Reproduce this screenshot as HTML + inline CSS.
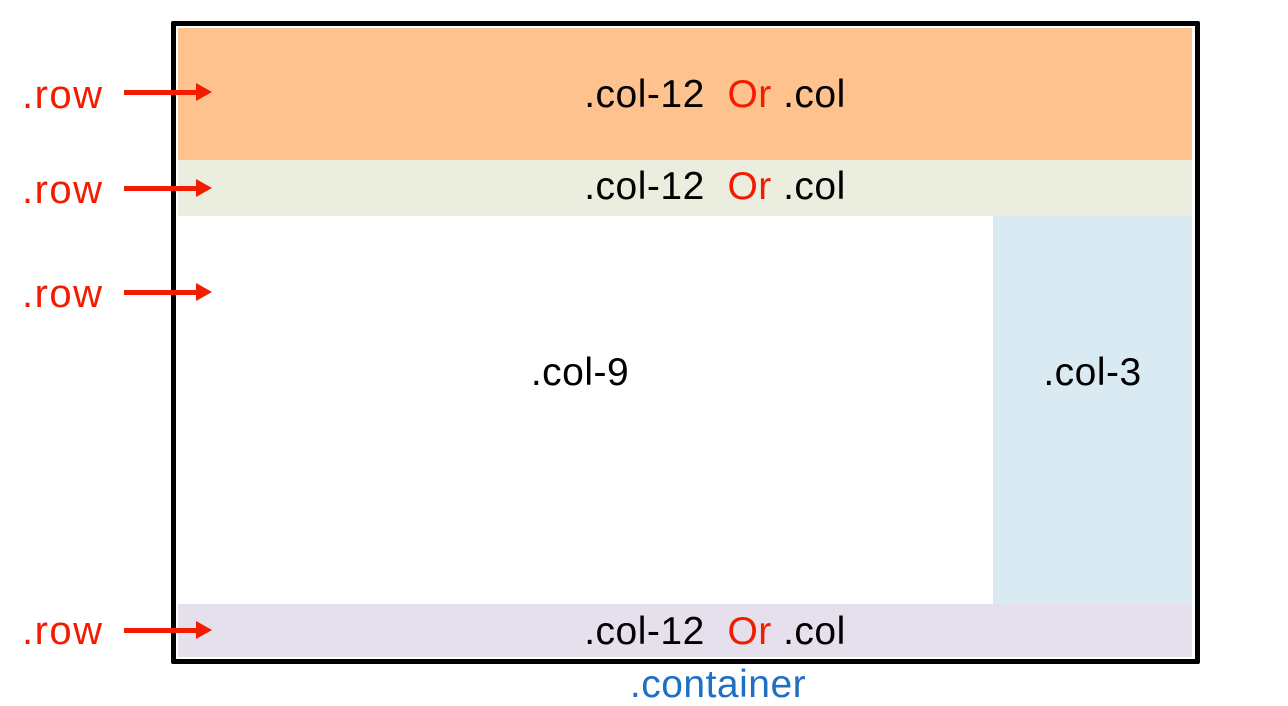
<!DOCTYPE html>
<html><head><style>
body{margin:0;width:1288px;height:704px;background:#fff;position:relative;overflow:hidden;font-family:"Liberation Sans",sans-serif}
div{position:absolute;box-sizing:border-box}
.t{font-size:39px;color:#000;white-space:nowrap;text-align:center;line-height:40px;letter-spacing:0.5px}
.r{color:#f41c00}
.lab{left:22px;font-size:40px;color:#f41c00;line-height:40px;letter-spacing:1.5px}
.ar{left:124px;width:76px;height:5px;background:#f41c00}
.ah{width:0;height:0;border-left:16px solid #f41c00;border-top:9px solid transparent;border-bottom:9px solid transparent}
</style></head><body>
<div style="left:171px;top:21px;width:1029px;height:643px;border:5px solid #000;border-radius:2px"></div>
<div style="left:178px;top:28px;width:1014px;height:132px;background:#fdc28e"></div>
<div style="left:178px;top:160px;width:1014px;height:56px;background:#ebeedf"></div>
<div style="left:993px;top:216px;width:199px;height:388px;background:#d9eaf3"></div>
<div style="left:178px;top:604px;width:1014px;height:53px;background:#e5e0ec"></div>

<div class="t" style="left:178px;width:1074px;top:75px">.col-12&nbsp; <span class="r">Or</span> .col</div>
<div class="t" style="left:178px;width:1074px;top:167px">.col-12&nbsp; <span class="r">Or</span> .col</div>
<div class="t" style="left:178px;width:1074px;top:612px">.col-12&nbsp; <span class="r">Or</span> .col</div>
<div class="t" style="left:480px;width:200px;top:353px">.col-9</div>
<div class="t" style="left:993px;width:199px;top:353px">.col-3</div>
<div class="t" style="left:568px;width:300px;top:665px;color:#1f6fc5">.container</div>

<div class="lab" style="top:75px">.row</div>
<div class="lab" style="top:170px">.row</div>
<div class="lab" style="top:274px">.row</div>
<div class="lab" style="top:611px">.row</div>
<div class="ar" style="top:90px"></div><div class="ah" style="left:196px;top:83px"></div>
<div class="ar" style="top:186px"></div><div class="ah" style="left:196px;top:179px"></div>
<div class="ar" style="top:290px"></div><div class="ah" style="left:196px;top:283px"></div>
<div class="ar" style="top:628px"></div><div class="ah" style="left:196px;top:621px"></div>
</body></html>
